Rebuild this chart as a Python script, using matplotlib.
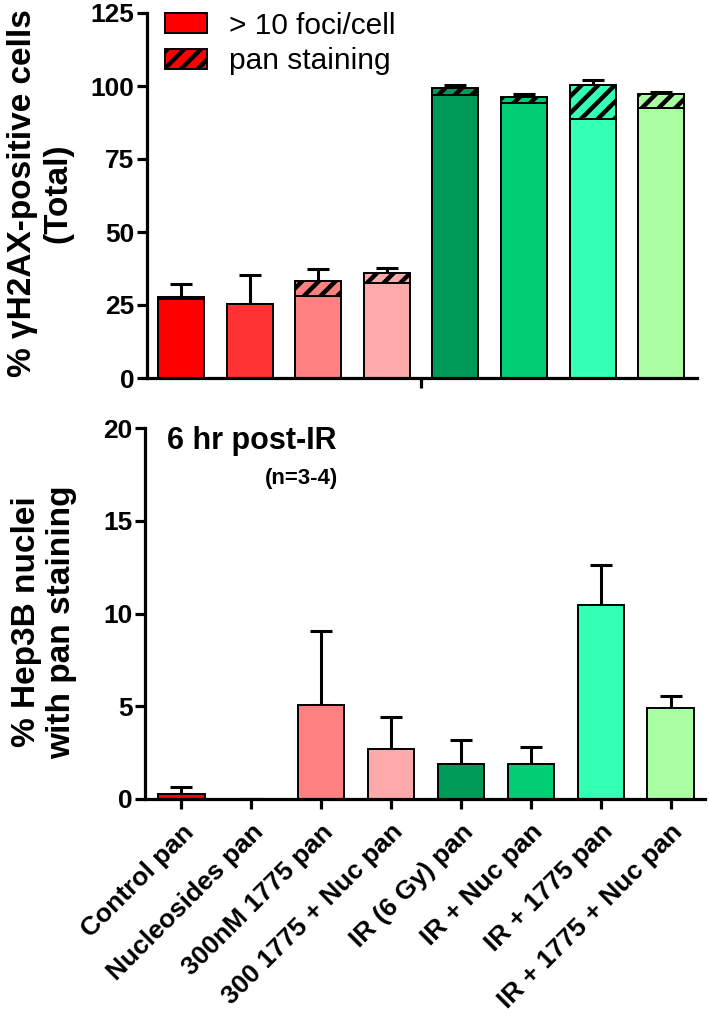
import matplotlib
matplotlib.use("Agg")
import matplotlib.pyplot as plt
from matplotlib.patches import Patch
import numpy as np

plt.rcParams['font.family'] = ['Liberation Sans', 'DejaVu Sans']
plt.rcParams['hatch.linewidth'] = 3.2

categories = ["Control pan", "Nucleosides pan", "300nM 1775 pan", "300 1775 + Nuc pan",
              "IR (6 Gy) pan", "IR + Nuc pan", "IR + 1775 pan", "IR + 1775 + Nuc pan"]
colors = ["#FF0000", "#FF3333", "#FF8080", "#FFAAAA",
          "#009A58", "#00CC74", "#33FFB5", "#AAFFA2"]

# Top panel: % gammaH2AX-positive cells (Total)
foci = [27.1, 25.3, 28.1, 32.7, 97.0, 94.2, 88.8, 92.5]
pan_top = [0.6, 0.0, 5.1, 3.1, 2.3, 2.0, 11.4, 4.9]
err_top = [4.4, 10.0, 4.2, 2.0, 1.1, 1.2, 1.7, 0.6]

# Bottom panel: % Hep3B nuclei with pan staining
pan_bottom = [0.27, 0.0, 5.07, 2.71, 1.87, 1.87, 10.46, 4.9]
err_bottom = [0.36, 0.0, 4.0, 1.73, 1.31, 0.95, 2.14, 0.65]

W, H = 709, 1026
fig = plt.figure(figsize=(W / 100, H / 100), dpi=100)

def axrect(x0, y0, x1, y1):
    return [x0 / W, 1 - y1 / H, (x1 - x0) / W, (y1 - y0) / H]

spine_lw = 2.3
fs_tick = 19
bar_lw = 1.4

# ---------- top ----------
ax1 = fig.add_axes(axrect(147, 13, 697, 378))
x = np.arange(len(categories))
bw = 0.67
ax1.bar(x, foci, bw, color=colors, edgecolor='black', linewidth=bar_lw, zorder=2)
ax1.bar(x, pan_top, bw, bottom=foci, color=colors, edgecolor='black', linewidth=bar_lw,
        hatch='//', zorder=2)
tot = np.array(foci) + np.array(pan_top)
ax1.errorbar(x, tot, yerr=[np.zeros(len(x)), err_top], fmt='none', ecolor='black',
             elinewidth=2.2, capsize=8, capthick=2.2, zorder=1)
ax1.set_xlim(-0.496, 7.52)
ax1.set_ylim(0, 125)
ax1.set_yticks([0, 25, 50, 75, 100, 125])
ax1.set_xticks([3.5])
ax1.set_xticklabels([''])
for s in ['top', 'right']:
    ax1.spines[s].set_visible(False)
for s in ['left', 'bottom']:
    ax1.spines[s].set_linewidth(spine_lw)
ax1.tick_params(axis='both', width=spine_lw, length=7, labelsize=fs_tick, pad=2)
for lab in ax1.get_yticklabels():
    lab.set_fontweight('bold')

handles = [Patch(facecolor='#FF0000', edgecolor='black', linewidth=bar_lw),
           Patch(facecolor='#FF0000', edgecolor='black', linewidth=bar_lw, hatch='//')]
ax1.legend(handles, ['> 10 foci/cell', 'pan staining'], loc='upper left',
           bbox_to_anchor=(0.022, 1.02), frameon=False, fontsize=21.5,
           handlelength=1.4, handleheight=0.65, handletextpad=0.75,
           labelspacing=0.25, borderaxespad=0, borderpad=0.2)

fig.text(40 / W, 1 - 193 / H, '% γH2AX-positive cells\n(Total)', rotation=90,
         ha='center', va='center', ma='center', fontsize=24, fontweight='bold',
         linespacing=1.2)

# ---------- bottom ----------
ax2 = fig.add_axes(axrect(145, 428, 705, 799))
bw2 = 0.665
ax2.bar(x, pan_bottom, bw2, color=colors, edgecolor='black', linewidth=bar_lw, zorder=2)
ax2.errorbar(x, pan_bottom, yerr=[np.zeros(len(x)), err_bottom], fmt='none',
             ecolor='black', elinewidth=2.2, capsize=8, capthick=2.2, zorder=1)
ax2.set_xlim(-0.52, 7.49)
ax2.set_ylim(0, 20)
ax2.set_yticks([0, 5, 10, 15, 20])
ax2.set_xticks(x)
ax2.set_xticklabels(categories, rotation=45, ha='right', rotation_mode='anchor',
                    fontsize=20, fontweight='bold')
for s in ['top', 'right']:
    ax2.spines[s].set_visible(False)
for s in ['left', 'bottom']:
    ax2.spines[s].set_linewidth(spine_lw)
ax2.tick_params(axis='both', width=spine_lw, length=7, labelsize=fs_tick, pad=2)
ax2.tick_params(axis='x', pad=8)
for lab in ax2.get_yticklabels():
    lab.set_fontweight('bold')

ax2.text(0.039, 1.005, '6 hr post-IR', transform=ax2.transAxes, ha='left', va='top',
         fontsize=22, fontweight='bold')
ax2.text(0.345, 0.893, '(n=3-4)', transform=ax2.transAxes, ha='right', va='top',
         fontsize=16, fontweight='bold')

fig.text(44 / W, 1 - 622 / H, '% Hep3B nuclei\nwith pan staining', rotation=90,
         ha='center', va='center', ma='center', fontsize=24, fontweight='bold',
         linespacing=1.2)

fig.savefig('out.png', dpi=100)
